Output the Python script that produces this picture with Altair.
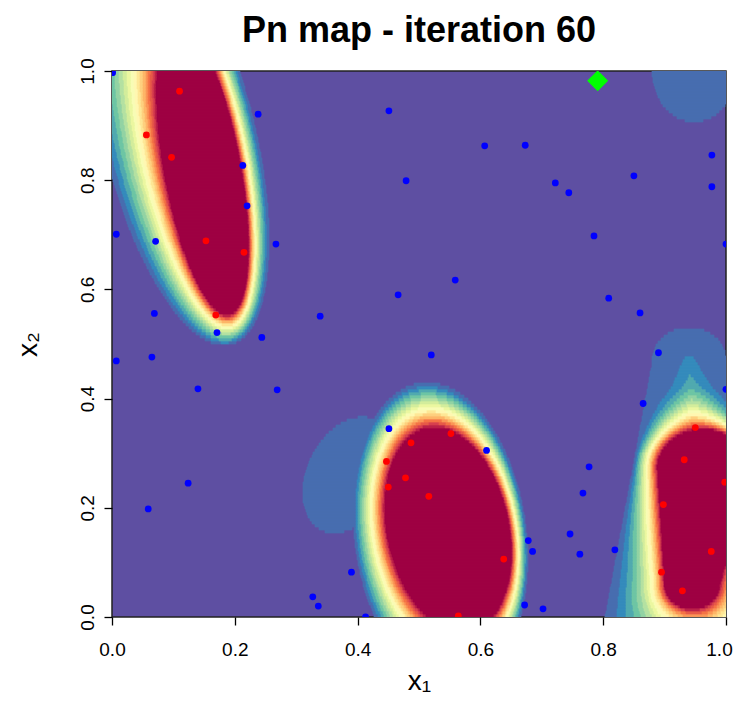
import numpy as np
import pandas as pd
import altair as alt

alt.data_transformers.disable_max_rows()

TITLE = "Pn map - iteration 60"
X_TITLE = "x\u2081"
Y_TITLE = "x\u2082"
X_TICKS = [0.0, 0.2, 0.4, 0.6, 0.8, 1.0]
Y_TICKS = [0.0, 0.2, 0.4, 0.6, 0.8, 1.0]

blue_x = [0.001, 0.238, 0.213, 0.220, 0.007, 0.071, 0.267, 0.069, 0.171, 0.244,
          0.007, 0.065, 0.140, 0.269, 0.124, 0.059, 0.339, 0.451, 0.479, 0.466,
          0.559, 0.520, 0.451, 0.610, 0.390, 0.327, 0.336, 0.413, 0.678, 0.685,
          0.672, 0.702, 0.607, 0.673, 0.722, 0.744, 0.785, 0.809, 0.850, 0.977,
          0.977, 1.000, 0.860, 0.890, 0.865, 1.000, 0.777, 0.767, 0.746, 0.762,
          0.819]
blue_y = [0.997, 0.921, 0.827, 0.753, 0.701, 0.688, 0.683, 0.556, 0.521, 0.512,
          0.469, 0.476, 0.418, 0.416, 0.245, 0.198, 0.551, 0.927, 0.799, 0.590,
          0.617, 0.480, 0.345, 0.305, 0.082, 0.037, 0.020, 0.000, 0.140, 0.120,
          0.022, 0.015, 0.863, 0.864, 0.795, 0.777, 0.698, 0.584, 0.808, 0.846,
          0.788, 0.683, 0.557, 0.484, 0.391, 0.417, 0.275, 0.227, 0.152, 0.115,
          0.123]
red_x = [0.110, 0.056, 0.097, 0.153, 0.215, 0.169,
         0.552, 0.487, 0.447, 0.478, 0.450, 0.516, 0.638, 0.564,
         0.950, 0.932, 0.998, 0.898, 0.976, 0.895, 0.929]
red_y = [0.963, 0.883, 0.842, 0.689, 0.668, 0.553,
         0.336, 0.319, 0.285, 0.255, 0.238, 0.221, 0.106, 0.002,
         0.347, 0.288, 0.247, 0.206, 0.120, 0.082, 0.048]
best_x = [0.791]
best_y = [0.982]

# ---- Pn field: level breaks and palette ----
LEVEL_BREAKS = [0.05 * k for k in range(1, 20)]
SPECTRAL = ["#9E0142", "#D53E4F", "#F46D43", "#FDAE61", "#FEE08B", "#FFFFBF",
            "#E6F598", "#ABDDA4", "#66C2A5", "#3288BD", "#5E4FA2"]

# shapes of the Pn regions
# ellipses: (cx, cy, semi-axis across, semi-axis along, tilt in degrees)
b1_core = (0.148, 0.82, 0.063, 0.27, 9)
b1_edge = (0.110, 0.88, 0.124, 0.39, 12)
b2_core = (0.548, 0.16, 0.100, 0.190, 9.5)
b2_edge = (0.535, 0.15, 0.140, 0.280, 6)
b2_halo = (0.385, 0.26, 0.068, 0.110, -20)
tr_halo = (0.948, 1.00, 0.068, 0.093, 0)
# tapered capsules: (x0, y0, r0, x1, y1, r1)
b3_core = (0.945, 0.06, 0.045, 0.963, 0.27, 0.075)
b3_edge = (0.968, -0.02, 0.17, 0.940, 0.47, 0.06)
# band stretching towards the top of the right-hand region: (y start, y span, extra power)
b3_stretch = (0.30, 0.12, 1.6)


def ramp(hexes, n):
    rgb = np.array([[int(h[i:i + 2], 16) for i in (1, 3, 5)] for h in hexes], float)
    pos = np.linspace(0, 1, len(hexes))
    out = []
    for t in np.linspace(0, 1, n):
        c = [int(round(np.interp(t, pos, rgb[:, k]))) for k in range(3)]
        out.append("#%02X%02X%02X" % tuple(c))
    return out


COLORS = ramp(SPECTRAL[::-1], 20)


def ell(X, Y, p):
    cx, cy, a, b, th = p
    th = np.radians(th)
    dx, dy = X - cx, Y - cy
    u = dx * np.cos(th) + dy * np.sin(th)
    w = -dx * np.sin(th) + dy * np.cos(th)
    return np.sqrt((u / a) ** 2 + (w / b) ** 2)


def tcap(X, Y, p):
    x0, y0, r0, x1, y1, r1 = p
    dx, dy = x1 - x0, y1 - y0
    s = np.clip(((X - x0) * dx + (Y - y0) * dy) / (dx * dx + dy * dy), 0, 1)
    r = r0 + (r1 - r0) * s
    return np.hypot(X - (x0 + s * dx), Y - (y0 + s * dy)) / r


def main_comp(din, dout, lo=0.05, hi=0.96, power=1.0):
    t = np.where(din <= 1, 1.0,
                 np.clip((1 - dout) / np.maximum((1 - dout) + (din - 1), 1e-9), 0, 1))
    v = lo + (hi - lo) * t ** power
    return np.where((dout >= 1) & (din > 1), 0.0, v)


NX, NY = 614, 182
X, Y = np.meshgrid((np.arange(NX) + 0.5) / NX, (np.arange(NY) + 0.5) / NY)
field = np.zeros_like(X)
field = np.maximum(field, main_comp(ell(X, Y, b1_core), ell(X, Y, b1_edge)))
field = np.maximum(field, main_comp(ell(X, Y, b2_core), ell(X, Y, b2_edge)))
pw = 1 + b3_stretch[2] * np.clip((Y - b3_stretch[0]) / b3_stretch[1], 0, 1)
field = np.maximum(field, main_comp(tcap(X, Y, b3_core), tcap(X, Y, b3_edge), power=pw))
field = np.maximum(field, np.where(ell(X, Y, b2_halo) < 1, 0.075, 0))
field = np.maximum(field, np.where(ell(X, Y, tr_halo) < 1, 0.075, 0))
lev = np.searchsorted(LEVEL_BREAKS, field, side="right")

rows = []
for j in range(NY):
    row = lev[j]
    cut = np.flatnonzero(np.diff(row)) + 1
    starts = np.concatenate([[0], cut])
    ends = np.concatenate([cut, [NX]])
    for s, e in zip(starts, ends):
        if row[s] > 0:
            rows.append((s / NX, e / NX, j / NY, (j + 1) / NY, int(row[s])))
cells = pd.DataFrame(rows, columns=["x", "xe", "y", "ye", "lev"])

blue = pd.DataFrame({"x": blue_x, "y": blue_y})
red = pd.DataFrame({"x": red_x, "y": red_y})
best = pd.DataFrame({"x": best_x, "y": best_y})

FONT = "Liberation Sans"
xs = alt.Scale(domain=[0, 1], nice=False, zero=False)
ys = alt.Scale(domain=[0, 1], nice=False, zero=False)
xaxis = alt.Axis(values=X_TICKS, format=".1f", title=X_TITLE, tickSize=8,
                 tickColor="black", tickWidth=1.3, domain=False, grid=False,
                 labelFontSize=19, labelFont=FONT, labelColor="black",
                 labelPadding=15, labelFlush=False, labelOverlap=False,
                 labelOffset={"condition": {"test": "datum.value == 1", "value": -7},
                              "value": 0},
                 titleFontSize=28, titleFont=FONT, titleFontWeight="normal",
                 titleColor="black", titlePadding=8)
yaxis = alt.Axis(values=Y_TICKS, format=".1f", title=Y_TITLE, tickSize=8,
                 tickColor="black", tickWidth=1.3, domain=False, grid=False,
                 labelFontSize=19, labelFont=FONT, labelColor="black",
                 labelAngle=270, labelAlign="center", labelBaseline="alphabetic",
                 labelPadding=11, labelFlush=False, labelOverlap=False,
                 titleFontSize=28, titleFont=FONT, titleFontWeight="normal",
                 titleColor="black", titlePadding=36)

lev_scale = alt.Scale(domain=list(range(1, 20)), range=COLORS[1:])
base = alt.Chart(cells).mark_rect(strokeWidth=0.7, clip=True).encode(
    x=alt.X("x:Q", scale=xs, axis=xaxis),
    x2="xe:Q",
    y=alt.Y("y:Q", scale=ys, axis=yaxis),
    y2="ye:Q",
    color=alt.Color("lev:O", scale=lev_scale, legend=None),
    stroke=alt.Stroke("lev:O", scale=lev_scale, legend=None),
)

blue_pts = alt.Chart(blue).mark_circle(size=46, color="#0000FF", opacity=1, clip=True).encode(
    x=alt.X("x:Q", scale=xs, axis=xaxis), y=alt.Y("y:Q", scale=ys, axis=yaxis))
red_pts = alt.Chart(red).mark_circle(size=46, color="#FF0000", opacity=1, clip=True).encode(
    x=alt.X("x:Q", scale=xs, axis=xaxis), y=alt.Y("y:Q", scale=ys, axis=yaxis))
best_pt = alt.Chart(best).mark_point(shape="diamond", filled=True, size=440,
                                     color="#00FF00", opacity=1, clip=True).encode(
    x=alt.X("x:Q", scale=xs, axis=xaxis), y=alt.Y("y:Q", scale=ys, axis=yaxis))

chart = alt.layer(base, blue_pts, red_pts, best_pt).properties(
    width=614, height=546,
    title=alt.TitleParams(TITLE, fontSize=36, fontWeight="bold", font=FONT,
                          color="black", anchor="middle", frame="group",
                          offset=8),
    padding={"left": 104, "top": 63, "right": 7, "bottom": 80},
    autosize="none",
).configure_view(fill=COLORS[0], stroke="#222222", strokeWidth=1.5)

chart.save("out.html", embed_options={"renderer": "svg", "actions": False})
